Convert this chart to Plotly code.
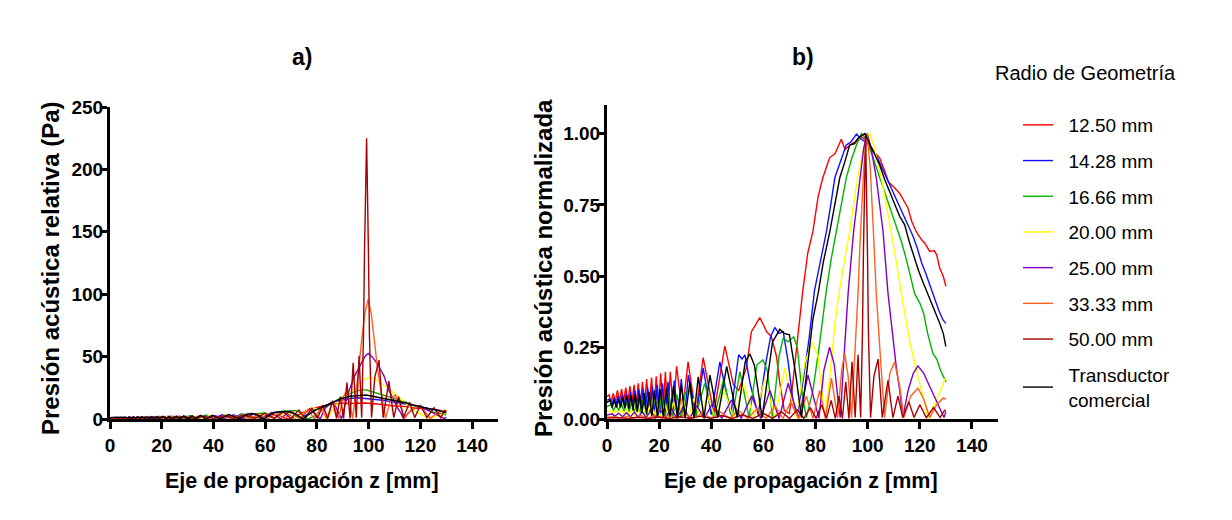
import plotly.graph_objects as go

# Normalised axial pressure (panel b) as (z [mm], p/pmax)
RED_B = [(0, 0.078), (0.8, 0.085), (1.6, 0.06), (2.4, 0.09), (3.2, 0.062), (4.0, 0.10), (4.8, 0.064),
         (5.6, 0.105), (6.4, 0.065), (7.2, 0.11), (8.0, 0.062), (8.8, 0.115), (9.6, 0.06), (10.4, 0.12),
         (11.2, 0.055), (12.0, 0.125), (12.8, 0.05), (13.6, 0.13), (14.4, 0.045), (15.2, 0.14), (16.1, 0.04),
         (17.1, 0.145), (18.0, 0.035), (18.9, 0.15), (19.7, 0.03), (20.6, 0.16), (21.5, 0.025), (22.4, 0.165),
         (23.3, 0.02), (24.3, 0.165), (25.4, 0.02), (26.7, 0.185), (28.9, 0.02), (31.1, 0.2), (34.0, 0.02),
         (36.9, 0.215), (41.0, 0.02), (45.2, 0.255), (48.5, 0.12), (50.5, 0.1), (53.5, 0.18), (55.4, 0.306),
         (57.0, 0.33), (58.6, 0.355), (60.0, 0.33), (61.2, 0.306), (63.0, 0.29), (65.0, 0.22), (66.3, 0.126),
         (68.0, 0.03), (70.0, 0.02), (72.7, 0.26), (75.0, 0.44), (77.0, 0.58), (79.0, 0.657), (81.0, 0.78),
         (82.8, 0.845), (85.4, 0.915), (87.5, 0.93), (89.9, 0.98), (91.3, 0.944), (93.3, 0.96), (95.0, 0.97),
         (97.0, 0.99), (99.0, 0.98), (101.0, 0.95), (103.0, 0.93), (104.6, 0.915), (106.5, 0.87), (108.0, 0.83),
         (110.3, 0.81), (112.3, 0.79), (115.4, 0.74), (117.0, 0.69), (118.6, 0.657), (120.5, 0.63),
         (122.0, 0.615), (123.8, 0.587), (125.5, 0.59), (126.5, 0.575), (127.6, 0.53), (129.0, 0.5), (130.0, 0.465)]

BLUE_B = [(0, 0.066), (1.0, 0.07), (1.8, 0.045), (2.6, 0.075), (3.4, 0.048), (4.2, 0.08), (5.0, 0.05),
          (5.8, 0.085), (6.6, 0.05), (7.4, 0.09), (8.2, 0.048), (9.0, 0.095), (9.8, 0.045), (10.6, 0.1),
          (11.4, 0.04), (12.2, 0.103), (13.0, 0.035), (13.9, 0.107), (14.7, 0.03), (15.6, 0.11), (16.5, 0.025),
          (17.4, 0.115), (18.3, 0.02), (19.3, 0.12), (20.3, 0.015), (21.3, 0.125), (22.3, 0.012), (23.4, 0.13),
          (24.6, 0.01), (25.8, 0.135), (27.1, 0.01), (28.5, 0.14), (29.8, 0.01), (31.2, 0.154), (34.2, 0.01),
          (36.9, 0.178), (40.0, 0.015), (43.3, 0.2), (47.5, 0.015), (50.5, 0.225), (51.8, 0.21), (52.9, 0.225),
          (55.0, 0.12), (58.0, 0.015), (61.0, 0.2), (62.8, 0.29), (64.4, 0.32), (66.0, 0.3), (67.6, 0.306),
          (69.5, 0.2), (71.5, 0.05), (73.0, 0.02), (75.0, 0.12), (77.5, 0.28), (79.6, 0.45), (82.0, 0.56),
          (84.2, 0.657), (86.0, 0.76), (87.4, 0.845), (89.5, 0.9), (91.8, 0.96), (93.5, 0.97), (95.7, 0.998),
          (97.5, 0.98), (99.5, 0.97), (101.5, 0.95), (103.5, 0.92), (105.5, 0.88), (107.5, 0.84), (109.7, 0.8),
          (111.5, 0.76), (112.9, 0.73), (115.0, 0.69), (117.4, 0.64), (119.0, 0.6), (120.6, 0.55), (122.3, 0.51),
          (123.8, 0.47), (125.5, 0.43), (127.3, 0.38), (128.9, 0.347), (130.0, 0.335)]

GREEN_B = [(0, 0.043), (1.5, 0.05), (2.5, 0.03), (3.5, 0.052), (4.5, 0.03), (5.5, 0.055), (6.5, 0.028),
           (7.5, 0.058), (8.5, 0.025), (9.5, 0.06), (10.5, 0.022), (11.5, 0.062), (12.6, 0.018), (13.7, 0.065),
           (14.8, 0.015), (15.9, 0.068), (17.1, 0.012), (18.3, 0.072), (19.6, 0.01), (20.9, 0.076), (22.3, 0.008),
           (23.7, 0.08), (25.2, 0.006), (26.8, 0.085), (28.4, 0.005), (30.0, 0.092), (31.8, 0.1), (33.8, 0.005),
           (37.5, 0.125), (41.0, 0.005), (44.8, 0.14), (48.0, 0.005), (51.0, 0.166), (54.5, 0.005), (57.5, 0.19),
           (59.8, 0.207), (61.5, 0.17), (63.5, 0.005), (66.0, 0.22), (67.6, 0.283), (69.5, 0.27), (71.6, 0.288),
           (73.0, 0.25), (75.0, 0.08), (76.5, 0.005), (79.0, 0.1), (81.5, 0.26), (84.0, 0.44), (86.0, 0.56),
           (88.0, 0.657), (90.0, 0.75), (91.8, 0.845), (93.8, 0.91), (95.7, 0.96), (97.6, 1.0), (99.5, 0.98),
           (101.5, 0.93), (103.0, 0.89), (104.6, 0.85), (106.5, 0.8), (108.5, 0.74), (111.0, 0.68), (113.0, 0.62),
           (114.8, 0.56), (116.5, 0.5), (118.0, 0.44), (120.0, 0.406), (121.5, 0.37), (123.0, 0.3), (125.0, 0.23),
           (126.5, 0.21), (128.0, 0.17), (130.0, 0.13)]

YELLOW_B = [(0, 0.026), (1.5, 0.03), (2.5, 0.02), (3.5, 0.032), (4.5, 0.018), (5.5, 0.034), (6.5, 0.016),
            (7.5, 0.036), (8.5, 0.014), (9.5, 0.038), (10.6, 0.012), (11.7, 0.04), (12.8, 0.01), (14.0, 0.043),
            (15.2, 0.008), (16.5, 0.046), (17.8, 0.006), (19.2, 0.05), (20.7, 0.005), (22.2, 0.055), (23.8, 0.004),
            (25.5, 0.06), (27.3, 0.003), (29.2, 0.066), (31.2, 0.003), (33.4, 0.073), (35.8, 0.003), (38.5, 0.082),
            (41.5, 0.003), (45.0, 0.1), (48.5, 0.003), (52.5, 0.12), (56.5, 0.003), (60.5, 0.137), (64.5, 0.003),
            (68.2, 0.178), (72.5, 0.003), (76.0, 0.2), (78.7, 0.27), (81.0, 0.22), (83.5, 0.005), (85.5, 0.15),
            (87.5, 0.34), (89.0, 0.44), (91.0, 0.55), (93.1, 0.657), (94.7, 0.76), (96.2, 0.845), (98.0, 0.93),
            (99.5, 0.98), (100.8, 1.0), (102.3, 0.96), (103.8, 0.9), (105.2, 0.845), (107.2, 0.75), (109.1, 0.657),
            (111.0, 0.55), (112.9, 0.44), (114.5, 0.35), (116.0, 0.28), (117.4, 0.219), (119.5, 0.14),
            (121.2, 0.078), (123.2, 0.005), (125.5, 0.05), (127.5, 0.09), (129.5, 0.137), (130.0, 0.143)]

PURPLE_B = [(0, 0.014), (2.0, 0.018), (3.0, 0.01), (4.5, 0.02), (6.0, 0.008), (7.5, 0.022), (9.0, 0.007),
            (10.5, 0.024), (12.0, 0.006), (13.5, 0.026), (15.0, 0.005), (16.8, 0.029), (18.6, 0.004), (20.5, 0.032),
            (22.5, 0.003), (24.6, 0.036), (26.8, 0.003), (29.2, 0.041), (31.7, 0.002), (34.4, 0.047), (37.3, 0.002),
            (40.5, 0.055), (44.0, 0.002), (47.7, 0.066), (51.5, 0.002), (55.5, 0.08), (59.0, 0.002), (62.5, 0.1),
            (66.0, 0.002), (69.5, 0.125), (73.5, 0.002), (77.1, 0.154), (81.3, 0.002), (83.2, 0.17), (85.4, 0.252),
            (87.2, 0.19), (88.6, 0.07), (89.5, 0.005), (90.8, 0.2), (92.5, 0.44), (94.6, 0.657), (97.0, 0.845),
            (98.5, 0.95), (99.8, 1.0), (101.3, 0.95), (103.3, 0.845), (105.9, 0.657), (107.8, 0.44), (109.5, 0.3),
            (111.0, 0.18), (112.3, 0.1), (113.5, 0.005), (115.5, 0.1), (117.5, 0.16), (119.3, 0.186),
            (121.5, 0.16), (123.5, 0.12), (125.5, 0.08), (127.6, 0.04), (129.3, 0.005), (130.0, 0.025)]

ORANGE_B = [(0, 0.006), (3, 0.008), (5, 0.003), (8, 0.01), (10, 0.003), (13, 0.012), (15.5, 0.002), (18.5, 0.014),
            (21, 0.002), (24, 0.016), (27, 0.002), (30, 0.018), (33, 0.002), (36.5, 0.021), (40, 0.002),
            (43.5, 0.025), (47, 0.002), (50.5, 0.03), (54, 0.002), (57.5, 0.036), (61, 0.002), (64.5, 0.045),
            (67.5, 0.002), (70.5, 0.06), (73.5, 0.002), (76.5, 0.08), (79.0, 0.002), (81.6, 0.1), (83.8, 0.002),
            (86.1, 0.143), (88.5, 0.005), (90.0, 0.17), (91.2, 0.23), (92.5, 0.15), (93.8, 0.005), (95.0, 0.2),
            (96.3, 0.44), (97.0, 0.6), (98.5, 0.88), (99.8, 1.0), (101.0, 0.88), (102.5, 0.6), (103.3, 0.44),
            (105.0, 0.2), (106.5, 0.005), (108.5, 0.16), (110.3, 0.2), (112.2, 0.12), (113.9, 0.005),
            (116.5, 0.08), (119.3, 0.108), (121.5, 0.07), (123.8, 0.005), (126.5, 0.05), (128.9, 0.073), (130.0, 0.07)]

DARKRED_B = [(0, 0.003), (4, 0.005), (8, 0.002), (12, 0.006), (16, 0.002), (20, 0.007), (24, 0.002), (28, 0.008),
             (32, 0.002), (36, 0.01), (40, 0.002), (44, 0.012), (48, 0.002), (52, 0.015), (56, 0.002), (60, 0.02),
             (63.5, 0.002), (67, 0.025), (70, 0.002), (73, 0.032), (75.5, 0.002), (78, 0.04), (80.2, 0.002),
             (82.3, 0.05), (84.2, 0.002), (86, 0.065), (87.6, 0.002), (89.0, 0.08), (90.3, 0.002), (91.6, 0.13),
             (92.8, 0.002), (94.0, 0.2), (95.2, 0.005), (96.3, 0.225), (97.3, 0.005), (98.0, 0.3), (98.4, 0.6),
             (99.2, 1.0), (99.9, 0.6), (100.3, 0.3), (101.1, 0.005), (102.4, 0.15), (104.0, 0.21), (105.6, 0.005),
             (107.8, 0.135), (109.7, 0.005), (111.6, 0.08), (113.5, 0.005), (115.8, 0.06), (117.8, 0.005),
             (120.0, 0.05), (122.5, 0.005), (125.3, 0.04), (127.8, 0.005), (129.5, 0.03), (130.0, 0.028)]

BLACK_B = [(0, 0.058), (1.2, 0.065), (2.0, 0.04), (2.8, 0.068), (3.6, 0.04), (4.4, 0.07), (5.2, 0.04), (6.0, 0.075),
           (6.8, 0.038), (7.6, 0.08), (8.4, 0.035), (9.2, 0.082), (10.0, 0.03), (10.8, 0.085), (11.6, 0.025),
           (12.5, 0.088), (13.4, 0.02), (14.3, 0.09), (15.2, 0.015), (16.2, 0.095), (17.2, 0.012), (18.2, 0.1),
           (19.3, 0.01), (20.4, 0.105), (21.6, 0.008), (22.8, 0.11), (24.1, 0.006), (25.5, 0.115), (27.0, 0.005),
           (28.5, 0.12), (30.0, 0.005), (31.8, 0.13), (33.3, 0.005), (35.0, 0.148), (37.2, 0.005), (39.5, 0.154),
           (42.5, 0.005), (45.9, 0.184), (50.0, 0.005), (53.0, 0.2), (54.8, 0.228), (56.5, 0.19), (59.5, 0.005),
           (63.5, 0.27), (66.3, 0.314), (68.0, 0.3), (70.0, 0.295), (72.5, 0.15), (74.6, 0.005), (77.0, 0.2),
           (79.0, 0.35), (81.0, 0.44), (83.0, 0.55), (85.5, 0.657), (87.5, 0.76), (89.3, 0.845), (91.2, 0.9),
           (93.1, 0.96), (95.0, 0.965), (96.5, 0.985), (98.9, 1.0), (100.5, 0.97), (102.5, 0.93), (104.6, 0.89),
           (106.5, 0.84), (108.4, 0.8), (110.5, 0.75), (112.3, 0.71), (114.2, 0.68), (116.0, 0.62), (118.0, 0.56),
           (119.5, 0.52), (121.2, 0.48), (123.0, 0.44), (125.0, 0.4), (127.6, 0.336), (129.0, 0.3), (130.0, 0.254)]

# legend labels, colours and peak pressure in Pa read from panel a)
LABELS = ["12.50 mm", "14.28 mm", "16.66 mm", "20.00 mm", "25.00 mm", "33.33 mm", "50.00 mm",
          "Transductor<br>comercial"]
COLORS = ["#ff0000", "#1010ff", "#00b400", "#ffff00", "#8000c0", "#ff6020", "#a80000", "#000000"]
PEAK_PA = [13.1, 17.1, 23.5, 33.4, 52.6, 95.9, 224.9, 19.2]
CURVES = [RED_B, BLUE_B, GREEN_B, YELLOW_B, PURPLE_B, ORANGE_B, DARKRED_B, BLACK_B]

FONT = "Liberation Sans, Arial, sans-serif"
W, H = 1232, 520

fig = go.Figure()

for label, color, peak, pts in zip(LABELS, COLORS, PEAK_PA, CURVES):
    z = [p[0] for p in pts]
    v = [p[1] for p in pts]
    # panel a) is the same profile in Pa
    fig.add_trace(go.Scatter(x=z, y=[val * peak for val in v], mode="lines",
                             line=dict(color=color, width=1.4), xaxis="x", yaxis="y",
                             showlegend=False, legendgroup=label, hoverinfo="skip"))
    name = "\u00a0\u00a0" + label.replace("<br>", "<br>\u00a0\u00a0")
    fig.add_trace(go.Scatter(x=z, y=v, mode="lines", name=name,
                             line=dict(color=color, width=1.4), xaxis="x2", yaxis="y2",
                             legendgroup=label, hoverinfo="skip"))

axis_common = dict(showline=True, linecolor="black", linewidth=3, ticks="outside",
                   tickwidth=3, tickcolor="black", showgrid=False, zeroline=False, automargin=False,
                   tickfont=dict(family=FONT, size=19, color="black", weight="bold"))

fig.update_layout(
    width=W, height=H, autosize=False,
    margin=dict(l=0, r=0, t=0, b=0, pad=0, autoexpand=False),
    paper_bgcolor="white", plot_bgcolor="white",
    font=dict(family=FONT, color="black"),
    xaxis=dict(domain=[110 / W, 498 / W], range=[0, 150], tickvals=list(range(0, 141, 20)),
               anchor="y", ticklen=7, ticklabelstandoff=0, **axis_common),
    yaxis=dict(domain=[1 - 419 / H, 1 - 107 / H], range=[0, 250], tickvals=[0, 50, 100, 150, 200, 250],
               anchor="x", ticklen=6, ticklabelstandoff=-6, **axis_common),
    xaxis2=dict(domain=[607 / W, 998 / W], range=[0, 150], tickvals=list(range(0, 141, 20)),
                anchor="y2", ticklen=7, ticklabelstandoff=0, **axis_common),
    yaxis2=dict(domain=[1 - 419 / H, 1 - 105 / H], range=[0, 1.1], tickvals=[0, 0.25, 0.5, 0.75, 1.0],
                tickformat=".2f", anchor="x2", ticklen=6, ticklabelstandoff=-6, **axis_common),
    legend=dict(x=1018 / W, y=1 - 106 / H, xanchor="left", yanchor="top", tracegroupgap=8,
                font=dict(family=FONT, size=19, color="black"), bgcolor="rgba(0,0,0,0)",
                itemclick=False, itemdoubleclick=False),
    showlegend=True,
)

def ann(text, x, y, size, angle=0, bold=True, xanchor="center"):
    fig.add_annotation(text=f"<b>{text}</b>" if bold else text, x=x / W, y=1 - y / H,
                       xref="paper", yref="paper", showarrow=False, textangle=angle,
                       xanchor=xanchor, yanchor="middle",
                       font=dict(family=FONT, size=size, color="black"))

ann("a)", 302, 57, 23)
ann("b)", 803, 57, 23)
ann("Eje de propagación z [mm]", 302, 481, 21.5)
ann("Eje de propagación z [mm]", 801, 481, 21.5)
ann("Presión acústica relativa (Pa)", 50, 268, 24, angle=-90)
ann("Presión acústica normalizada", 543, 268, 24, angle=-90)
ann("Radio de Geometría", 993, 73, 20, bold=False, xanchor="left")

fig.write_html("out.html", config={"displayModeBar": False},
               post_script="document.body.style.margin='0';document.body.style.overflow='hidden';")
